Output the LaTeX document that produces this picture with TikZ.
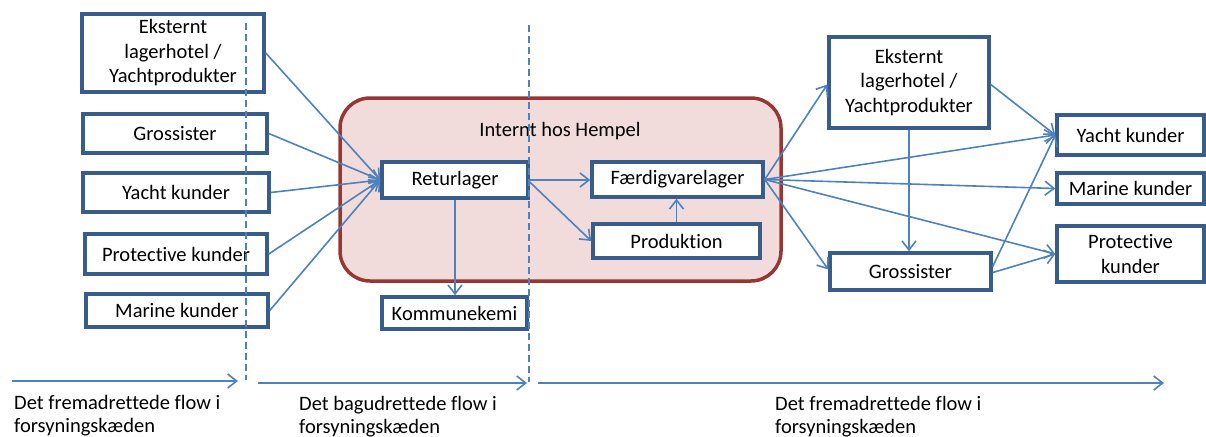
\documentclass[tikz,border=0pt]{standalone}
\usepackage{fontspec}
\setmainfont[Ligatures=NoCommon]{Carlito}
\usetikzlibrary{arrows.meta}
\definecolor{boxblue}{HTML}{385D8A}
\definecolor{arrblue}{HTML}{4F81BD}
\definecolor{pinkfill}{HTML}{F2DCDB}
\definecolor{redborder}{HTML}{953735}
\begin{document}
\begin{tikzpicture}[x=1pt,y=-1pt,
  box/.style={draw=boxblue, line width=3.5pt, fill=white, rectangle, inner sep=0pt, align=center, font=\fontsize{20.5}{24.5}\selectfont},
  flow/.style={draw=arrblue, line width=1.6pt, -{Straight Barb[length=9pt,width=14pt]}},
  divider/.style={draw=arrblue, line width=1.6pt, dash pattern=on 7pt off 4pt},
  lbl/.style={font=\fontsize{20.5}{24.5}\selectfont, inner sep=0pt, anchor=base west},
  container/.style={draw=redborder, fill=pinkfill, line width=3.5pt, rounded corners=30pt, rectangle, inner sep=0pt}]
\useasboundingbox (0,0) rectangle (1206,436);

% container
\node[container, minimum width=441pt, minimum height=183pt] (hempel) at (560.5,189.5) {};
\node[font=\fontsize{20.5}{24.5}\selectfont, inner sep=0pt, anchor=base] (hempellbl) at (560,136) {Internt hos Hempel};

% left boxes
\node[box, minimum width=182pt, minimum height=78pt] (eL) at (173,53) {Eksternt\\lagerhotel /\\Yachtprodukter};
\node[box, minimum width=184pt, minimum height=39pt] (gL) at (175,133.5) {Grossister};
\node[box, minimum width=186pt, minimum height=39pt] (yL) at (176,192.5) {Yacht kunder};
\node[box, minimum width=182pt, minimum height=40pt] (pL) at (176,254) {Protective kunder};
\node[box, minimum width=182pt, minimum height=33pt] (mL) at (177,310.5) {Marine kunder};

% middle boxes
\node[box, minimum width=146pt, minimum height=36pt] (ret) at (455,180) {Returlager};
\node[box, minimum width=171pt, minimum height=35pt] (fv) at (677.5,179.5) {Færdigvarelager};
\node[box, minimum width=167pt, minimum height=34pt] (prod) at (676.5,241) {Produktion};
\node[box, minimum width=145pt, minimum height=32pt] (kom) at (454.5,313) {Kommunekemi};

% right boxes
\node[box, minimum width=160pt, minimum height=91pt] (eR) at (909,82.5) {Eksternt\\lagerhotel /\\Yachtprodukter};
\node[box, minimum width=161pt, minimum height=37pt] (gR) at (910.5,271.5) {Grossister};
\node[box, minimum width=147pt, minimum height=40pt] (yR) at (1130.5,135) {Yacht kunder};
\node[box, minimum width=147pt, minimum height=31pt] (mR) at (1130.5,188.5) {Marine kunder};
\node[box, minimum width=147pt, minimum height=56pt] (pR) at (1130.5,254) {Protective\\kunder};

% left connectors
\draw[flow] (eL.east) -- (ret.west);
\draw[flow] (gL.east) -- (ret.west);
\draw[flow] (yL.east) -- (ret.west);
\draw[flow] (pL.east) -- (ret.west);
\draw[flow] (mL.east) -- (ret.west);

% internal connectors
\draw[flow] (ret.east) -- (ret.east -| fv.west);
\draw[flow] ([yshift=-2pt]ret.east) -- (prod.west);
\draw[flow] (ret.south) -- (ret.south |- kom.north);
\draw[flow] (prod.north) -- (prod.north |- fv.south);

% right connectors
\draw[flow] (fv.east) -- ([yshift=-2pt]eR.west);
\draw[flow] (fv.east) -- ([yshift=2pt]gR.west);
\draw[flow] (fv.east) -- (yR.west);
\draw[flow] (fv.east) -- (mR.west);
\draw[flow] (fv.east) -- (pR.west);
\draw[flow] ([yshift=-2pt]eR.east) -- (yR.west);
\draw[flow] (eR.south) -- (eR.south |- gR.north);
\draw[flow] ([yshift=5pt]gR.east) -- (yR.west);
\draw[flow] ([yshift=-1pt]gR.east) -- (pR.west);

% dividers
\coordinate (d1t) at (246,23);
\coordinate (d1b) at (246,380);
\coordinate (d2t) at (529,25);
\coordinate (d2b) at (529,382);
\draw[divider] (d1t) -- (d1b);
\draw[divider] (d2t) -- (d2b);

% flow arrows
\coordinate (f1s) at (12,381);
\coordinate (f1e) at (238,381);
\coordinate (f2s) at (258,383);
\coordinate (f2e) at (527,383);
\coordinate (f3s) at (538,383);
\coordinate (f3e) at (1164,383);
\draw[flow] (f1s) -- (f1e);
\draw[flow] (f2s) -- (f2e);
\draw[flow] (f3s) -- (f3e);

% bottom labels
\node[lbl] (t1a) at (14,409) {Det fremadrettede flow i};
\node[lbl] (t1b) at (14,432) {forsyningskæden};
\node[lbl] (t2a) at (299,410) {Det bagudrettede flow i};
\node[lbl] (t2b) at (299,433) {forsyningskæden};
\node[lbl] (t3a) at (775,410) {Det fremadrettede flow i};
\node[lbl] (t3b) at (775,433) {forsyningskæden};
\end{tikzpicture}
\end{document}
